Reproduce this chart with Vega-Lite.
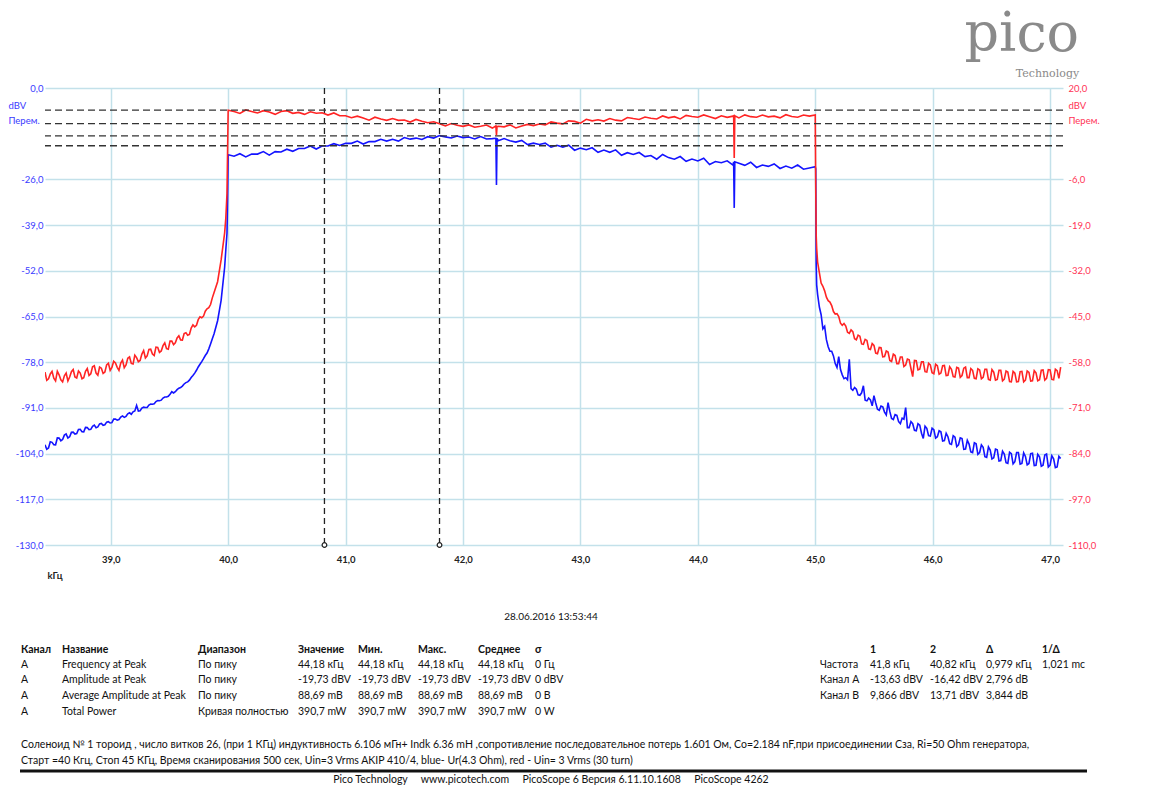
{
  "$schema": "https://vega.github.io/schema/vega-lite/v6.json",
  "padding": {"left": 8, "top": 8, "right": 0, "bottom": 0},
  "background": "white",
  "config": {"view": {"stroke": null}, "font": "Lato"},
  "datasets": {
    "trace": [
      {"f":38.44,"a":-101.5,"b":-60.8},{"f":38.455,"a":-102.75,"b":-63.15},{"f":38.47,"a":-102.4,"b":-62.7},{"f":38.485,"a":-100.65,"b":-61.35},
      {"f":38.5,"a":-100.8,"b":-60.6},{"f":38.515,"a":-101.45,"b":-62.55},{"f":38.53,"a":-101.5,"b":-63.3},{"f":38.545,"a":-99.55,"b":-60.6},
      {"f":38.56,"a":-99.6,"b":-61.6},{"f":38.575,"a":-100.35,"b":-63.0},{"f":38.59,"a":-100.0,"b":-63.6},{"f":38.605,"a":-98.75,"b":-61.85},
      {"f":38.62,"a":-98.4,"b":-61.1},{"f":38.635,"a":-99.55,"b":-63.35},{"f":38.65,"a":-99.2,"b":-62.2},{"f":38.665,"a":-97.95,"b":-60.7},
      {"f":38.68,"a":-97.9,"b":-60.1},{"f":38.695,"a":-98.45,"b":-62.2},{"f":38.71,"a":-98.3,"b":-62.5},{"f":38.725,"a":-97.15,"b":-60.5},
      {"f":38.74,"a":-97.1,"b":-61.1},{"f":38.755,"a":-97.75,"b":-62.7},{"f":38.77,"a":-97.8,"b":-62.4},{"f":38.785,"a":-96.55,"b":-60.6},
      {"f":38.8,"a":-96.6,"b":-59.8},{"f":38.815,"a":-97.2,"b":-61.8},{"f":38.83,"a":-97.1,"b":-61.3},{"f":38.845,"a":-96.25,"b":-59.3},
      {"f":38.86,"a":-95.9,"b":-59.0},{"f":38.875,"a":-96.65,"b":-61.1},{"f":38.89,"a":-96.4,"b":-61.7},{"f":38.905,"a":-95.55,"b":-59.4},
      {"f":38.92,"a":-95.4,"b":-59.7},{"f":38.935,"a":-95.95,"b":-61.2},{"f":38.95,"a":-95.8,"b":-60.8},{"f":38.965,"a":-95.05,"b":-58.75},
      {"f":38.98,"a":-94.9,"b":-58.3},{"f":38.995,"a":-95.3,"b":-60.35},{"f":39.01,"a":-95.2,"b":-59.5},{"f":39.025,"a":-94.2,"b":-57.75},
      {"f":39.04,"a":-94.2,"b":-58.2},{"f":39.055,"a":-94.5,"b":-59.45},{"f":39.07,"a":-94.3,"b":-60.3},{"f":39.085,"a":-93.6,"b":-58.25},
      {"f":39.1,"a":-93.3,"b":-57.4},{"f":39.115,"a":-93.7,"b":-59.55},{"f":39.13,"a":-93.4,"b":-58.8},{"f":39.145,"a":-92.7,"b":-56.9},
      {"f":39.16,"a":-92.4,"b":-56.5},{"f":39.175,"a":-92.8,"b":-58.35},{"f":39.19,"a":-92.1,"b":-58.5},{"f":39.205,"a":-91.85,"b":-56.0},
      {"f":39.22,"a":-90.3,"b":-56.7},{"f":39.235,"a":-91.9,"b":-57.85},{"f":39.25,"a":-91.8,"b":-57.5},{"f":39.265,"a":-91.05,"b":-55.7},
      {"f":39.28,"a":-90.8,"b":-54.7},{"f":39.295,"a":-90.9,"b":-56.8},{"f":39.31,"a":-90.9,"b":-56.2},{"f":39.325,"a":-90.2,"b":-54.35},
      {"f":39.34,"a":-89.9,"b":-54.3},{"f":39.355,"a":-89.95,"b":-55.7},{"f":39.37,"a":-89.8,"b":-56.1},{"f":39.385,"a":-89.2,"b":-53.7},
      {"f":39.4,"a":-88.9,"b":-53.8},{"f":39.415,"a":-88.95,"b":-55.2},{"f":39.43,"a":-88.8,"b":-54.8},{"f":39.445,"a":-88.2,"b":-53.3},
      {"f":39.46,"a":-87.9,"b":-52.5},{"f":39.475,"a":-87.9,"b":-54.15},{"f":39.49,"a":-87.7,"b":-54.3},{"f":39.505,"a":-87.1,"b":-52.0},
      {"f":39.52,"a":-86.4,"b":-52.0},{"f":39.535,"a":-86.75,"b":-53.0},{"f":39.55,"a":-86.4,"b":-52.5},{"f":39.565,"a":-85.8,"b":-51.1},
      {"f":39.58,"a":-85.4,"b":-50.5},{"f":39.595,"a":-85.2,"b":-51.65},{"f":39.61,"a":-84.8,"b":-51.7},{"f":39.625,"a":-84.2,"b":-49.85},
      {"f":39.64,"a":-83.8,"b":-49.6},{"f":39.655,"a":-83.6,"b":-50.35},{"f":39.67,"a":-83.1,"b":-50.1},{"f":39.685,"a":-82.35,"b":-48.3},
      {"f":39.7,"a":-81.8,"b":-47.4},{"f":39.715,"a":-81.1,"b":-47.95},{"f":39.73,"a":-80.3,"b":-47.5},{"f":39.745,"a":-79.35,"b":-45.9},
      {"f":39.76,"a":-78.6,"b":-45.1},{"f":39.775,"a":-77.85,"b":-45.35},{"f":39.79,"a":-77.0,"b":-44.9},{"f":39.805,"a":-76.1,"b":-43.5},
      {"f":39.82,"a":-75.4,"b":-42.8},{"f":39.835,"a":-74.2,"b":-42.5},{"f":39.85,"a":-72.8,"b":-41.6},{"f":39.865,"a":-71.3,"b":-39.7},
      {"f":39.88,"a":-69.9,"b":-38.2},{"f":39.91,"a":-66.2,"b":-35.1},{"f":39.94,"a":-60.4,"b":-28.9},{"f":39.97,"a":-51.0,"b":-21.2},
      {"f":39.98,"a":-46.0,"b":-17.0},{"f":39.99,"a":-41.3,"b":-10.0},{"f":39.995,"a":-32.0,"b":2.0},
      {"f":40.0,"a":-19.0,"b":13.7},{"f":40.05,"a":-19.4,"b":13.3},{"f":40.1,"a":-18.7,"b":12.75},{"f":40.15,"a":-19.6,"b":13.75},
      {"f":40.2,"a":-18.8,"b":13.3},{"f":40.25,"a":-18.8,"b":12.9},{"f":40.3,"a":-18.1,"b":13.55},{"f":40.35,"a":-19.1,"b":13.15},
      {"f":40.4,"a":-18.1,"b":12.5},{"f":40.45,"a":-18.2,"b":13.3},{"f":40.5,"a":-17.4,"b":13.55},{"f":40.55,"a":-18.0,"b":12.8},
      {"f":40.6,"a":-17.2,"b":13.05},{"f":40.65,"a":-17.2,"b":12.5},{"f":40.7,"a":-16.5,"b":13.25},{"f":40.75,"a":-17.35,"b":12.8},
      {"f":40.8,"a":-16.5,"b":12.95},{"f":40.85,"a":-16.5,"b":12.3},{"f":40.9,"a":-15.85,"b":12.9},{"f":40.95,"a":-16.35,"b":12.1},
      {"f":41.0,"a":-15.7,"b":12.1},{"f":41.05,"a":-15.75,"b":11.55},{"f":41.1,"a":-15.1,"b":12.0},{"f":41.15,"a":-15.95,"b":11.45},
      {"f":41.2,"a":-15.2,"b":10.85},{"f":41.25,"a":-15.25,"b":11.7},{"f":41.3,"a":-14.6,"b":11.2},{"f":41.35,"a":-15.1,"b":10.8},
      {"f":41.4,"a":-14.6,"b":11.3},{"f":41.45,"a":-15.1,"b":10.8},{"f":41.5,"a":-14.1,"b":10.9},{"f":41.55,"a":-14.55,"b":10.3},
      {"f":41.6,"a":-14.25,"b":11.05},{"f":41.65,"a":-14.65,"b":10.55},{"f":41.7,"a":-13.85,"b":10.1},{"f":41.75,"a":-14.25,"b":10.4},
      {"f":41.8,"a":-13.55,"b":9.8},{"f":41.85,"a":-13.9,"b":9.2},{"f":41.9,"a":-14.2,"b":9.9},{"f":41.95,"a":-13.65,"b":9.4},
      {"f":42.0,"a":-14.1,"b":9.1},{"f":42.05,"a":-13.95,"b":9.5},{"f":42.1,"a":-14.5,"b":8.85},{"f":42.15,"a":-13.8,"b":9.1},
      {"f":42.2,"a":-14.5,"b":9.45},{"f":42.25,"a":-14.4,"b":8.6},{"f":42.28,"a":-14.3,"b":9.2},{"f":42.285,"a":-27.6,"b":6.6},
      {"f":42.29,"a":-14.3,"b":9.0},{"f":42.3,"a":-15.0,"b":9.1},{"f":42.35,"a":-14.4,"b":8.95},{"f":42.4,"a":-15.0,"b":9.5},
      {"f":42.45,"a":-15.4,"b":8.65},{"f":42.5,"a":-14.9,"b":9.2},{"f":42.55,"a":-16.1,"b":9.65},{"f":42.6,"a":-15.7,"b":9.3},
      {"f":42.65,"a":-16.05,"b":9.75},{"f":42.7,"a":-15.7,"b":9.5},{"f":42.75,"a":-16.85,"b":10.35},{"f":42.8,"a":-16.3,"b":10.0},
      {"f":42.85,"a":-16.8,"b":9.8},{"f":42.9,"a":-16.25,"b":10.65},{"f":42.95,"a":-17.7,"b":10.5},{"f":43.0,"a":-17.1,"b":10.0},
      {"f":43.05,"a":-17.55,"b":11.1},{"f":43.1,"a":-17.0,"b":10.65},{"f":43.15,"a":-18.3,"b":10.95},{"f":43.2,"a":-17.65,"b":10.6},
      {"f":43.25,"a":-18.3,"b":11.3},{"f":43.3,"a":-17.6,"b":10.85},{"f":43.35,"a":-19.15,"b":10.65},{"f":43.4,"a":-18.4,"b":11.6},
      {"f":43.45,"a":-18.9,"b":11.3},{"f":43.5,"a":-18.35,"b":11.05},{"f":43.55,"a":-19.5,"b":11.75},{"f":43.6,"a":-19.2,"b":11.4},
      {"f":43.65,"a":-20.25,"b":11.2},{"f":43.7,"a":-18.9,"b":12.05},{"f":43.75,"a":-19.8,"b":11.5},{"f":43.8,"a":-20.25,"b":11.85},
      {"f":43.85,"a":-19.5,"b":11.2},{"f":43.9,"a":-20.85,"b":12.2},{"f":43.95,"a":-20.2,"b":11.9},{"f":44.0,"a":-20.75,"b":11.7},
      {"f":44.05,"a":-20.0,"b":12.35},{"f":44.1,"a":-21.75,"b":11.85},{"f":44.15,"a":-20.9,"b":11.3},{"f":44.2,"a":-21.25,"b":12.1},
      {"f":44.25,"a":-20.7,"b":11.65},{"f":44.3,"a":-21.95,"b":12.0},{"f":44.305,"a":-21.0,"b":12.1},{"f":44.31,"a":-34.1,"b":0.1},
      {"f":44.315,"a":-21.0,"b":12.1},{"f":44.35,"a":-21.4,"b":11.5},{"f":44.4,"a":-22.0,"b":12.35},{"f":44.45,"a":-21.1,"b":11.85},
      {"f":44.5,"a":-22.6,"b":11.7},{"f":44.55,"a":-21.9,"b":12.3},{"f":44.6,"a":-22.3,"b":11.8},{"f":44.65,"a":-21.6,"b":12.0},
      {"f":44.7,"a":-22.9,"b":11.5},{"f":44.75,"a":-22.2,"b":12.4},{"f":44.8,"a":-22.8,"b":11.9},{"f":44.85,"a":-21.9,"b":11.7},
      {"f":44.9,"a":-23.1,"b":12.3},{"f":44.95,"a":-22.75,"b":12.0},{"f":45.0,"a":-22.4,"b":12.3},
      {"f":45.004,"a":-23.0,"b":-8.0},{"f":45.008,"a":-50.0,"b":-22.0},{"f":45.012,"a":-56.0,"b":-25.5},
      {"f":45.02,"a":-58.7,"b":-29.5},{"f":45.035,"a":-62.3,"b":-32.5},{"f":45.05,"a":-64.5,"b":-35.5},{"f":45.065,"a":-68.5,"b":-36.4},
      {"f":45.08,"a":-67.8,"b":-37.7},{"f":45.095,"a":-71.6,"b":-39.5},{"f":45.11,"a":-73.6,"b":-40.5},{"f":45.125,"a":-74.9,"b":-40.9},
      {"f":45.14,"a":-74.9,"b":-41.9},{"f":45.155,"a":-76.2,"b":-43.6},{"f":45.17,"a":-78.4,"b":-44.3},{"f":45.185,"a":-79.5,"b":-44.2},
      {"f":45.2,"a":-76.4,"b":-45.0},{"f":45.215,"a":-80.1,"b":-46.9},{"f":45.23,"a":-81.6,"b":-47.5},{"f":45.245,"a":-82.7,"b":-47.0},
      {"f":45.26,"a":-82.4,"b":-47.7},{"f":45.275,"a":-83.0,"b":-49.5},{"f":45.29,"a":-77.2,"b":-49.8},{"f":45.305,"a":-85.5,"b":-48.8},
      {"f":45.32,"a":-86.0,"b":-49.3},{"f":45.335,"a":-85.2,"b":-51.3},{"f":45.35,"a":-85.7,"b":-51.6},{"f":45.365,"a":-87.3,"b":-50.3},
      {"f":45.38,"a":-87.4,"b":-50.6},{"f":45.395,"a":-86.7,"b":-52.8},{"f":45.41,"a":-84.7,"b":-52.9},{"f":45.425,"a":-88.8,"b":-51.5},
      {"f":45.44,"a":-89.0,"b":-51.8},{"f":45.455,"a":-88.2,"b":-54.2},{"f":45.47,"a":-88.7,"b":-54.4},{"f":45.485,"a":-90.4,"b":-52.7},
      {"f":45.5,"a":-87.5,"b":-53.2},{"f":45.515,"a":-89.6,"b":-55.4},{"f":45.53,"a":-91.4,"b":-55.6},{"f":45.545,"a":-91.7,"b":-53.8},
      {"f":45.56,"a":-90.5,"b":-53.9},{"f":45.575,"a":-90.7,"b":-56.5},{"f":45.59,"a":-92.2,"b":-56.4},{"f":45.605,"a":-93.0,"b":-54.8},
      {"f":45.62,"a":-89.5,"b":-55.1},{"f":45.635,"a":-92.0,"b":-57.5},{"f":45.65,"a":-94.0,"b":-57.8},{"f":45.665,"a":-94.3,"b":-55.7},
      {"f":45.68,"a":-92.9,"b":-56.1},{"f":45.695,"a":-93.1,"b":-58.4},{"f":45.71,"a":-94.9,"b":-58.4},{"f":45.725,"a":-95.5,"b":-56.5},
      {"f":45.74,"a":-93.9,"b":-56.5},{"f":45.755,"a":-94.2,"b":-59.2},{"f":45.77,"a":-90.9,"b":-58.8},{"f":45.785,"a":-96.6,"b":-57.1},
      {"f":45.8,"a":-96.6,"b":-57.3},{"f":45.815,"a":-94.9,"b":-59.8},{"f":45.83,"a":-95.5,"b":-62.1},{"f":45.845,"a":-97.4,"b":-57.5},
      {"f":45.86,"a":-97.5,"b":-57.6},{"f":45.875,"a":-95.5,"b":-60.2},{"f":45.89,"a":-95.9,"b":-60.0},{"f":45.905,"a":-98.2,"b":-57.9},
      {"f":45.92,"a":-99.7,"b":-57.9},{"f":45.935,"a":-96.2,"b":-60.7},{"f":45.95,"a":-96.8,"b":-60.8},{"f":45.965,"a":-98.9,"b":-58.3},
      {"f":45.98,"a":-99.0,"b":-58.8},{"f":45.995,"a":-96.8,"b":-61.0},{"f":46.01,"a":-97.2,"b":-61.3},{"f":46.025,"a":-99.6,"b":-58.6},
      {"f":46.04,"a":-99.2,"b":-59.0},{"f":46.055,"a":-97.5,"b":-61.4},{"f":46.07,"a":-97.8,"b":-61.1},{"f":46.085,"a":-100.4,"b":-59.0},
      {"f":46.1,"a":-100.3,"b":-58.9},{"f":46.115,"a":-98.2,"b":-61.8},{"f":46.13,"a":-99.2,"b":-61.7},{"f":46.145,"a":-101.2,"b":-59.3},
      {"f":46.16,"a":-101.4,"b":-60.0},{"f":46.175,"a":-98.9,"b":-62.1},{"f":46.19,"a":-99.3,"b":-62.2},{"f":46.205,"a":-102.0,"b":-59.5},
      {"f":46.22,"a":-101.5,"b":-59.7},{"f":46.235,"a":-99.5,"b":-62.3},{"f":46.25,"a":-99.7,"b":-61.8},{"f":46.265,"a":-102.8,"b":-59.7},
      {"f":46.28,"a":-102.7,"b":-59.4},{"f":46.295,"a":-100.2,"b":-62.4},{"f":46.31,"a":-101.3,"b":-62.4},{"f":46.325,"a":-103.5,"b":-59.8},
      {"f":46.34,"a":-103.7,"b":-60.3},{"f":46.355,"a":-100.9,"b":-62.6},{"f":46.37,"a":-101.2,"b":-62.7},{"f":46.385,"a":-104.2,"b":-59.9},
      {"f":46.4,"a":-103.7,"b":-60.2},{"f":46.415,"a":-101.5,"b":-62.7},{"f":46.43,"a":-102.2,"b":-62.3},{"f":46.445,"a":-104.9,"b":-60.0},
      {"f":46.46,"a":-105.1,"b":-60.0},{"f":46.475,"a":-102.1,"b":-62.9},{"f":46.49,"a":-103.0,"b":-63.1},{"f":46.505,"a":-105.5,"b":-60.1},
      {"f":46.52,"a":-105.2,"b":-60.8},{"f":46.535,"a":-102.7,"b":-63.1},{"f":46.55,"a":-102.9,"b":-62.9},{"f":46.565,"a":-106.1,"b":-60.3},
      {"f":46.58,"a":-106.0,"b":-60.3},{"f":46.595,"a":-103.3,"b":-63.3},{"f":46.61,"a":-104.1,"b":-62.8},{"f":46.625,"a":-106.6,"b":-60.5},
      {"f":46.64,"a":-106.8,"b":-60.8},{"f":46.655,"a":-103.6,"b":-63.5},{"f":46.67,"a":-104.0,"b":-63.6},{"f":46.685,"a":-106.9,"b":-60.6},
      {"f":46.7,"a":-106.3,"b":-61.1},{"f":46.715,"a":-103.7,"b":-63.6},{"f":46.73,"a":-103.7,"b":-63.5},{"f":46.745,"a":-107.0,"b":-60.7},
      {"f":46.76,"a":-106.8,"b":-60.6},{"f":46.775,"a":-103.8,"b":-63.6},{"f":46.79,"a":-104.8,"b":-63.1},{"f":46.805,"a":-107.2,"b":-60.5},
      {"f":46.82,"a":-106.8,"b":-60.9},{"f":46.835,"a":-104.0,"b":-63.4},{"f":46.85,"a":-103.9,"b":-63.3},{"f":46.865,"a":-107.4,"b":-60.4},
      {"f":46.88,"a":-107.3,"b":-61.0},{"f":46.895,"a":-104.2,"b":-63.3},{"f":46.91,"a":-104.9,"b":-63.0},{"f":46.925,"a":-107.6,"b":-60.3},
      {"f":46.94,"a":-107.3,"b":-60.2},{"f":46.955,"a":-104.4,"b":-63.1},{"f":46.97,"a":-104.1,"b":-62.6},{"f":46.985,"a":-107.8,"b":-60.1},
      {"f":47.0,"a":-107.3,"b":-60.2},{"f":47.015,"a":-104.6,"b":-62.9},{"f":47.03,"a":-105.5,"b":-63.0},{"f":47.045,"a":-108.0,"b":-60.0},
      {"f":47.06,"a":-107.8,"b":-60.4},{"f":47.075,"a":-104.8,"b":-62.6},{"f":47.09,"a":-105.4,"b":-59.4}
    ],
    "curA": [{"a": -13.63}, {"a": -16.42}],
    "curB": [{"b": 9.866}, {"b": 13.71}],
    "curX": [{"f": 40.82}, {"f": 41.8}],
    "cells": [
      {"c": 13, "r": 0, "t": "28.06.2016 13:53:44"},
      {"c": 0, "r": 1, "t": "Канал"}, {"c": 1, "r": 1, "t": "Название"}, {"c": 2, "r": 1, "t": "Диапазон"}, {"c": 3, "r": 1, "t": "Значение"},
      {"c": 4, "r": 1, "t": "Мин."}, {"c": 5, "r": 1, "t": "Макс."}, {"c": 6, "r": 1, "t": "Среднее"}, {"c": 7, "r": 1, "t": "σ"},
      {"c": 9, "r": 1, "t": "1"}, {"c": 10, "r": 1, "t": "2"}, {"c": 11, "r": 1, "t": "Δ"}, {"c": 12, "r": 1, "t": "1/Δ"},
      {"c": 0, "r": 2, "t": "A"}, {"c": 1, "r": 2, "t": "Frequency at Peak"}, {"c": 2, "r": 2, "t": "По пику"}, {"c": 3, "r": 2, "t": "44,18 кГц"},
      {"c": 4, "r": 2, "t": "44,18 кГц"}, {"c": 5, "r": 2, "t": "44,18 кГц"}, {"c": 6, "r": 2, "t": "44,18 кГц"}, {"c": 7, "r": 2, "t": "0 Гц"},
      {"c": 8, "r": 2, "t": "Частота"}, {"c": 9, "r": 2, "t": "41,8 кГц"}, {"c": 10, "r": 2, "t": "40,82 кГц"}, {"c": 11, "r": 2, "t": "0,979 кГц"}, {"c": 12, "r": 2, "t": "1,021 mc"},
      {"c": 0, "r": 3, "t": "A"}, {"c": 1, "r": 3, "t": "Amplitude at Peak"}, {"c": 2, "r": 3, "t": "По пику"}, {"c": 3, "r": 3, "t": "-19,73 dBV"},
      {"c": 4, "r": 3, "t": "-19,73 dBV"}, {"c": 5, "r": 3, "t": "-19,73 dBV"}, {"c": 6, "r": 3, "t": "-19,73 dBV"}, {"c": 7, "r": 3, "t": "0 dBV"},
      {"c": 8, "r": 3, "t": "Канал A"}, {"c": 9, "r": 3, "t": "-13,63 dBV"}, {"c": 10, "r": 3, "t": "-16,42 dBV"}, {"c": 11, "r": 3, "t": "2,796 dB"},
      {"c": 0, "r": 4, "t": "A"}, {"c": 1, "r": 4, "t": "Average Amplitude at Peak"}, {"c": 2, "r": 4, "t": "По пику"}, {"c": 3, "r": 4, "t": "88,69 mB"},
      {"c": 4, "r": 4, "t": "88,69 mB"}, {"c": 5, "r": 4, "t": "88,69 mB"}, {"c": 6, "r": 4, "t": "88,69 mB"}, {"c": 7, "r": 4, "t": "0 B"},
      {"c": 8, "r": 4, "t": "Канал B"}, {"c": 9, "r": 4, "t": "9,866 dBV"}, {"c": 10, "r": 4, "t": "13,71 dBV"}, {"c": 11, "r": 4, "t": "3,844 dB"},
      {"c": 0, "r": 5, "t": "A"}, {"c": 1, "r": 5, "t": "Total Power"}, {"c": 2, "r": 5, "t": "Кривая полностью"}, {"c": 3, "r": 5, "t": "390,7 mW"},
      {"c": 4, "r": 5, "t": "390,7 mW"}, {"c": 5, "r": 5, "t": "390,7 mW"}, {"c": 6, "r": 5, "t": "390,7 mW"}, {"c": 7, "r": 5, "t": "0 W"},
      {"c": 0, "r": 6, "t": "Соленоид № 1 тороид , число витков 26,  (при 1 КГц) индуктивность 6.106 мГн+ Indk 6.36 mH  ,сопротивление последовательное потерь 1.601 Ом, Co=2.184 nF,при присоединении Cза, Ri=50 Ohm генератора,"},
      {"c": 0, "r": 7, "t": "Старт =40 Кгц, Стоп 45 КГц, Время сканирования 500 сек, Uin=3 Vrms AKIP 410/4, blue- Ur(4.3 Ohm), red - Uin= 3 Vrms (30 turn)"},
      {"c": 13, "r": 9, "t": "Pico Technology\u00a0\u00a0\u00a0\u00a0\u00a0www.picotech.com\u00a0\u00a0\u00a0\u00a0\u00a0PicoScope 6 Версия 6.11.10.1608\u00a0\u00a0\u00a0\u00a0\u00a0PicoScope 4262"}
    ],
    "sep": [{"c": 14, "c2": 15, "r": 8}]
  },
  "spacing": 0,
  "bounds": "flush",
  "vconcat": [
    {
      "width": 1018,
      "height": 457,
      "title": {
        "text": "pico",
        "subtitle": "Technology",
        "anchor": "end",
        "font": "DejaVu Serif",
        "fontSize": 54,
        "fontWeight": "normal",
        "color": "#8a8a8a",
        "subtitleFont": "DejaVu Serif",
        "subtitleFontSize": 11,
        "subtitleColor": "#8a8a8a",
        "subtitlePadding": 6,
        "dx": -20,
        "offset": 4
      },
      "resolve": {"scale": {"y": "independent"}},
      "layer": [
        {
          "layer": [
            {
              "data": {"name": "trace"},
              "mark": {"type": "line", "color": "#1414ff", "strokeWidth": 1.6, "clip": true},
              "encoding": {
                "x": {
                  "field": "f", "type": "quantitative",
                  "scale": {"domain": [38.44, 47.11], "nice": false, "zero": false},
                  "axis": {
                    "values": [39, 40, 41, 42, 43, 44, 45, 46, 47],
                    "labelExpr": "replace(format(datum.value, '.1f'), '.', ',')",
                    "grid": true, "gridColor": "#c3e1ea", "gridWidth": 1.5,
                    "domain": false, "ticks": false,
                    "labelFont": "Lato", "labelFontSize": 9.5, "labelFontWeight": "bold", "labelColor": "#222222", "labelPadding": 9,
                    "title": "kГц", "titleFont": "Lato", "titleFontSize": 9.5, "titleFontWeight": "bold", "titleColor": "#222222",
                    "titleAnchor": "start", "titleAlign": "left", "titleX": 2, "titleY": 30, "titleBaseline": "middle"
                  }
                },
                "y": {
                  "field": "a", "type": "quantitative",
                  "scale": {"domain": [-130, 0], "nice": false, "zero": false},
                  "axis": {
                    "values": [0, -26, -39, -52, -65, -78, -91, -104, -117, -130],
                    "labelExpr": "replace(replace(format(datum.value, '.1f'), '.', ','), '\u2212', '-')",
                    "grid": true, "gridColor": "#c3e1ea", "gridWidth": 1.5,
                    "domain": false, "ticks": false,
                    "labelFont": "Lato", "labelFontSize": 9.5, "labelColor": "#3a3aff", "labelPadding": 2,
                    "title": ["dBV", "Перем."], "titleAngle": 0, "titleAlign": "left", "titleBaseline": "middle",
                    "titleX": -37, "titleY": 17, "titleColor": "#3a3aff", "titleFont": "Lato", "titleFontSize": 9.5,
                    "titleFontWeight": "normal", "titleLineHeight": 15
                  }
                }
              }
            },
            {
              "data": {"name": "curA"},
              "mark": {"type": "rule", "color": "#333333", "strokeWidth": 1.4, "strokeDash": [7, 4]},
              "encoding": {"y": {"field": "a", "type": "quantitative"}}
            },
            {
              "data": {"name": "curX"},
              "mark": {"type": "rule", "color": "#222222", "strokeWidth": 1.3, "strokeDash": [6, 4]},
              "encoding": {"x": {"field": "f", "type": "quantitative"}}
            },
            {
              "data": {"name": "curX"},
              "mark": {"type": "point", "shape": "circle", "filled": true, "fill": "white", "stroke": "#222222", "strokeWidth": 1.2, "size": 22, "opacity": 1},
              "encoding": {"x": {"field": "f", "type": "quantitative"}, "y": {"datum": -130}}
            }
          ]
        },
        {
          "layer": [
            {
              "data": {"name": "trace"},
              "mark": {"type": "line", "color": "#ff2424", "strokeWidth": 1.6, "clip": true},
              "encoding": {
                "x": {"field": "f", "type": "quantitative"},
                "y": {
                  "field": "b", "type": "quantitative",
                  "scale": {"domain": [-110, 20], "nice": false, "zero": false},
                  "axis": {
                    "orient": "right",
                    "values": [20, -6, -19, -32, -45, -58, -71, -84, -97, -110],
                    "labelExpr": "replace(replace(format(datum.value, '.1f'), '.', ','), '\u2212', '-')",
                    "grid": false, "domain": false, "ticks": false,
                    "labelFont": "Lato", "labelFontSize": 9.5, "labelColor": "#ff3355", "labelPadding": 5,
                    "title": ["dBV", "Перем."], "titleAngle": 0, "titleAlign": "left", "titleBaseline": "middle",
                    "titleX": 5, "titleY": 17, "titleColor": "#ff3355", "titleFont": "Lato", "titleFontSize": 9.5,
                    "titleFontWeight": "normal", "titleLineHeight": 15
                  }
                }
              }
            },
            {
              "data": {"name": "curB"},
              "mark": {"type": "rule", "color": "#333333", "strokeWidth": 1.4, "strokeDash": [7, 4]},
              "encoding": {"y": {"field": "b", "type": "quantitative"}}
            }
          ]
        }
      ]
    },
    {
      "width": 1100,
      "height": 240,
      "layer": [
        {
          "data": {"name": "cells"},
          "transform": [{"filter": "datum.r != 1 && datum.c != 13"}],
          "mark": {"type": "text", "align": "left", "baseline": "middle", "font": "Lato", "fontSize": 10.5, "color": "#111111"},
          "encoding": {
            "x": {"field": "c", "type": "quantitative", "axis": null, "scale": {"domain": [0,1,2,3,4,5,6,7,8,9,10,11,12,13,14,15], "range": [-24,17,153,253,313,373,433,490,775,825,885,941,997,506,-25,1042], "nice": false, "zero": false}},
            "y": {"field": "r", "type": "quantitative", "axis": null, "scale": {"domain": [0,1,2,3,4,5,6,7,8,9], "range": [72,105,120,135,151,167,200,216,226,235], "nice": false, "zero": false}},
            "text": {"field": "t"}
          }
        },
        {
          "data": {"name": "cells"},
          "transform": [{"filter": "datum.r == 1"}],
          "mark": {"type": "text", "align": "left", "baseline": "middle", "font": "Lato", "fontSize": 10.5, "fontWeight": "bold", "color": "#111111"},
          "encoding": {
            "x": {"field": "c", "type": "quantitative"},
            "y": {"field": "r", "type": "quantitative"},
            "text": {"field": "t"}
          }
        },
        {
          "data": {"name": "cells"},
          "transform": [{"filter": "datum.c == 13 && datum.r == 0"}],
          "mark": {"type": "text", "align": "center", "baseline": "middle", "font": "Lato", "fontSize": 10, "color": "#111111"},
          "encoding": {
            "x": {"field": "c", "type": "quantitative"},
            "y": {"field": "r", "type": "quantitative"},
            "text": {"field": "t"}
          }
        },
        {
          "data": {"name": "cells"},
          "transform": [{"filter": "datum.c == 13 && datum.r == 9"}],
          "mark": {"type": "text", "align": "center", "baseline": "middle", "font": "Lato", "fontSize": 10.5, "color": "#111111"},
          "encoding": {
            "x": {"field": "c", "type": "quantitative"},
            "y": {"field": "r", "type": "quantitative"},
            "text": {"field": "t"}
          }
        },
        {
          "data": {"name": "sep"},
          "mark": {"type": "rule", "color": "#111111", "strokeWidth": 3},
          "encoding": {
            "x": {"field": "c", "type": "quantitative"},
            "x2": {"field": "c2"},
            "y": {"field": "r", "type": "quantitative"}
          }
        }
      ]
    }
  ]
}
